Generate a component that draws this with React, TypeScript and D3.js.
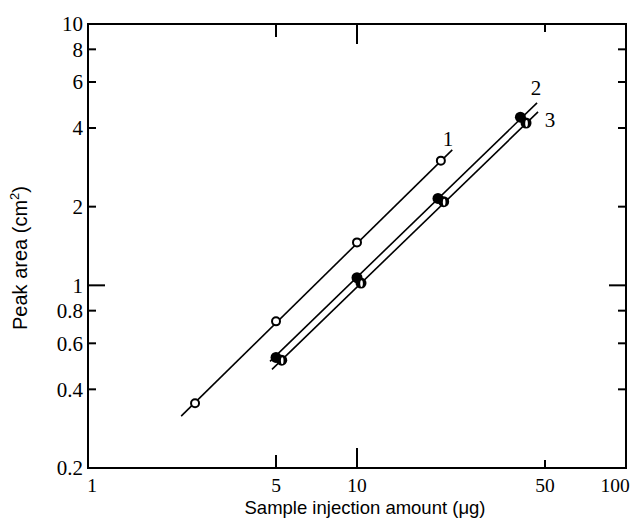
import React from "react";
import * as d3 from "d3";

const xTicks = [1, 5, 10, 50, 100];
const xTickLabels = ["1", "5", "10", "50", "100"];
const yTicks = [0.2, 0.4, 0.6, 0.8, 1, 2, 4, 6, 8, 10];
const yTickLabels = ["0.2", "0.4", "0.6", "0.8", "1", "2", "4", "6", "8", "10"];

const s1x = [2.5, 5, 10, 20.5];
const s1y = [0.354, 0.728, 1.46, 3.0];
const s2x = [5, 10, 20, 40.5];
const s2y = [0.53, 1.07, 2.15, 4.4];
const s3x = [5.25, 10.35, 21, 42.5];
const s3y = [0.517, 1.02, 2.09, 4.18];

const line1x = [2.22, 22.6];
const line1y = [0.316, 3.3];
const line2x = [4.75, 46.7];
const line2y = [0.512, 4.99];
const line3x = [4.83, 47.1];
const line3y = [0.477, 4.61];

const seriesLabels = ["1", "2", "3"];

export default function App() {
  const W = 641, H = 518;
  const L = 88, R = 626, T = 24, B = 468;
  const x = d3.scaleLog().domain([1, 100]).range([L, R]);
  const y = d3.scaleLog().domain([0.2, 10]).range([B, T]);
  const line = d3.line<[number, number]>().x(d => x(d[0])).y(d => y(d[1]));
  const zip = (a: number[], b: number[]) => a.map((v, i) => [v, b[i]] as [number, number]);

  const yLen = (v: number) => (v === 1 ? 17 : v === 0.2 || v === 10 ? 0 : 8);
  const xLen = (v: number) => (v === 5 ? 13 : v === 10 ? 20 : v === 50 ? 8 : 0);

  const serif = "'Liberation Serif', 'Times New Roman', serif";
  const sans = "'Liberation Sans', Arial, sans-serif";

  return (
    <svg width={W} height={H} style={{ position: "absolute", left: 0, top: 0, background: "#fff" }}>
      <rect x={0} y={0} width={W} height={H} fill="#fff" />
      <rect x={L} y={T} width={R - L} height={B - T} fill="none" stroke="#000" strokeWidth={2} />
      {yTicks.map((v, i) => (
        <g key={"yt" + i}>
          {yLen(v) > 0 && <line x1={L} x2={L + yLen(v)} y1={y(v)} y2={y(v)} stroke="#000" strokeWidth={2} />}
          {yLen(v) > 0 && <line x1={R} x2={R - yLen(v)} y1={y(v)} y2={y(v)} stroke="#000" strokeWidth={2} />}
          <text x={L - 5} y={y(v)} dy="0.35em" textAnchor="end" fontFamily={serif} fontSize={21} fill="#000">
            {yTickLabels[i]}
          </text>
        </g>
      ))}
      {xTicks.map((v, i) => (
        <g key={"xt" + i}>
          {xLen(v) > 0 && <line x1={x(v)} x2={x(v)} y1={B} y2={B - xLen(v)} stroke="#000" strokeWidth={2} />}
          {xLen(v) > 0 && <line x1={x(v)} x2={x(v)} y1={T} y2={T + xLen(v)} stroke="#000" strokeWidth={2} />}
          <text
            x={x(v) + (v === 1 ? 4 : v === 100 ? -11 : 0)}
            y={492}
            textAnchor="middle"
            fontFamily={serif}
            fontSize={19.5}
            fill="#000"
          >
            {xTickLabels[i]}
          </text>
        </g>
      ))}
      <text x={365} y={513.5} textAnchor="middle" fontFamily={sans} fontSize={18.5} fill="#000">
        Sample injection amount (μg)
      </text>
      <text
        transform={`translate(27,258) rotate(-90)`}
        textAnchor="middle"
        fontFamily={sans}
        fontSize={20}
        fill="#000"
      >
        Peak area (cm<tspan dy={-8} fontSize={13}>2</tspan><tspan dy={8}>)</tspan>
      </text>
      <path d={line(zip(line1x, line1y)) || ""} stroke="#000" strokeWidth={1.6} fill="none" />
      <path d={line(zip(line2x, line2y)) || ""} stroke="#000" strokeWidth={1.6} fill="none" />
      <path d={line(zip(line3x, line3y)) || ""} stroke="#000" strokeWidth={1.6} fill="none" />
      {s2x.map((v, i) => (
        <circle key={"s2" + i} cx={x(v)} cy={y(s2y[i])} r={5.5} fill="#000" />
      ))}
      {s3x.map((v, i) => (
        <g key={"s3" + i}>
          <circle cx={x(v)} cy={y(s3y[i])} r={5.5} fill="#000" />
          <ellipse cx={x(v) + 0.5} cy={y(s3y[i]) + 0.5} rx={1.3} ry={3.4} fill="#fff" />
        </g>
      ))}
      {s1x.map((v, i) => (
        <circle key={"s1" + i} cx={x(v)} cy={y(s1y[i])} r={4} fill="#fff" stroke="#000" strokeWidth={2} />
      ))}
      <text x={448} y={146} textAnchor="middle" fontFamily={serif} fontSize={21} fill="#000">{seriesLabels[0]}</text>
      <text x={536} y={95} textAnchor="middle" fontFamily={serif} fontSize={21} fill="#000">{seriesLabels[1]}</text>
      <text x={550} y={127} textAnchor="middle" fontFamily={serif} fontSize={21} fill="#000">{seriesLabels[2]}</text>
    </svg>
  );
}
